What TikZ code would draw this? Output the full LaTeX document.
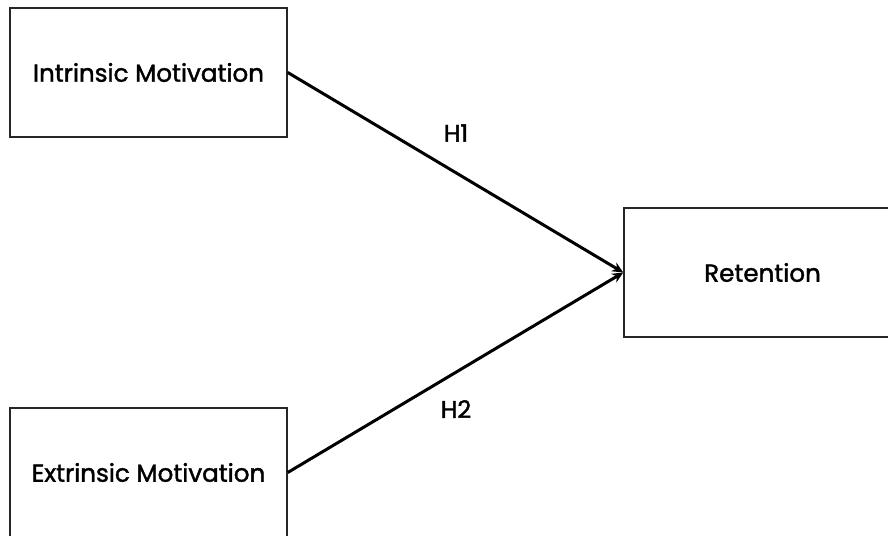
\documentclass[tikz,border=0pt]{standalone}
\usepackage{fontspec}
\setmainfont{Poppins}
\newfontfamily\labfont{Poppins}[FakeBold=1.6]
\usetikzlibrary{arrows.meta}
\begin{document}
\begin{tikzpicture}[x=1pt,y=-1pt,
  box/.style={draw=black!85, line width=1.5pt, minimum width=277pt, minimum height=129pt, inner sep=0pt, font=\labfont\fontsize{24.6}{27}\selectfont},
  link/.style={line width=3pt, -{Stealth[length=11pt,width=10pt]}},
  hlab/.style={font=\labfont\fontsize{24}{26}\selectfont}]
\useasboundingbox (0,0) rectangle (888,535);
\clip (0,0) rectangle (888,535);
\node[box] (im) at (148.5,72.5) {Intrinsic Motivation};
\node[box] (em) at (148.5,472.5) {\raisebox{-2pt}{Extrinsic Motivation}};
\node[box] (ret) at (762.5,272.5) {Retention};
\draw[link] (im.east) -- (ret.west);
\draw[link] (em.east) -- (ret.west);
\node[hlab] (h1) at (456,133) {H1};
\node[hlab] (h2) at (456,409) {H2};
\end{tikzpicture}
\end{document}
